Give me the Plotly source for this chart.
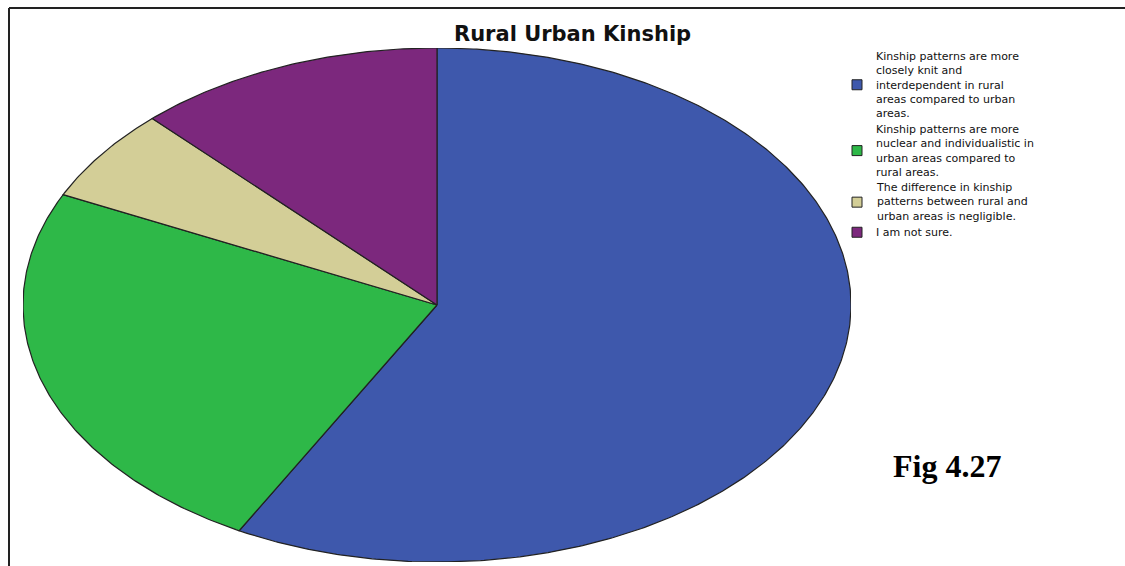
import numpy as np
import plotly.graph_objects as go

# ---- data -------------------------------------------------------------
TITLE = "Rural Urban Kinship"
CATEGORIES = [
    "Kinship patterns are more closely knit and interdependent in rural areas compared to urban areas.",
    "Kinship patterns are more nuclear and individualistic in urban areas compared to rural areas.",
    "The difference in kinship patterns between rural and urban areas is negligible.",
    "I am not sure.",
]
COUNTS = [168, 70, 17, 35]
LEGEND_LINES = [
    ["Kinship patterns are more", "closely knit and", "interdependent in rural",
     "areas compared to urban", "areas."],
    ["Kinship patterns are more", "nuclear and individualistic in",
     "urban areas compared to", "rural areas."],
    ["The difference in kinship", "patterns between rural and",
     "urban areas is negligible."],
    ["I am not sure."],
]
COLORS = ["#3E58AC", "#2EB848", "#D3CE97", "#7C287D"]
FIG_LABEL = "Fig 4.27"

W, H = 1125, 566


def px(x):
    return x / W


def py(y):
    return 1 - y / H


fig = go.Figure()

# ---- elliptical pie: wedges go clockwise from 12 o'clock ----------------
total = float(sum(COUNTS))
start = 0.0
for name, val, col in zip(CATEGORIES, COUNTS, COLORS):
    frac = val / total
    theta = np.linspace(start, start + frac, max(int(frac * 720), 8)) * 2 * np.pi
    xs = np.concatenate([[0.0], np.sin(theta), [0.0]])
    ys = np.concatenate([[0.0], np.cos(theta), [0.0]])
    fig.add_trace(go.Scatter(
        x=xs, y=ys, mode="lines", fill="toself", fillcolor=col,
        line=dict(color="#222222", width=1.2), name=name,
        hoverinfo="text", text=f"{name}<br>{val} ({frac:.1%})",
        showlegend=False,
    ))
    start += frac

fig.update_layout(
    width=W, height=H,
    margin=dict(l=0, r=0, t=0, b=0),
    paper_bgcolor="white", plot_bgcolor="white",
    xaxis=dict(domain=[px(23), px(851)], range=[-1, 1], visible=False, fixedrange=True),
    yaxis=dict(domain=[py(562), py(48)], range=[-1, 1], visible=False, fixedrange=True),
    showlegend=False,
)

# ---- title -------------------------------------------------------------
annotations = [dict(
    text=f"<b>{TITLE}</b>", x=px(572), y=py(34), xref="paper", yref="paper",
    xanchor="center", yanchor="middle", showarrow=False,
    font=dict(family="DejaVu Sans", size=21, color="#111111"),
)]

# ---- legend: swatch + wrapped text block per category -------------------
shapes = []
font_size = 11
line_h = font_size * 1.3
entry_gap = 1.5
y = 49.0
for lines, col in zip(LEGEND_LINES, COLORS):
    block_h = len(lines) * line_h
    yc = y + block_h / 2
    annotations.append(dict(
        text="<br>".join(lines), x=px(875), y=py(yc), xref="paper", yref="paper",
        xanchor="left", yanchor="middle", align="left", showarrow=False,
        borderpad=0,
        font=dict(family="DejaVu Sans", size=font_size, color="#111111"),
    ))
    shapes.append(dict(
        type="rect", xref="paper", yref="paper",
        x0=px(852), x1=px(862), y0=py(yc + 5), y1=py(yc - 5),
        fillcolor=col, line=dict(color="#222222", width=1),
    ))
    y += block_h + entry_gap

annotations.append(dict(
    text=f"<b>{FIG_LABEL}</b>", x=px(947), y=py(466), xref="paper", yref="paper",
    xanchor="center", yanchor="middle", showarrow=False,
    font=dict(family="Liberation Serif", size=32, color="black"),
))

# ---- frame lines (top and left) -------------------------------------------
shapes.append(dict(type="line", xref="paper", yref="paper",
                   x0=px(9), x1=1, y0=py(8), y1=py(8),
                   line=dict(color="#222222", width=2)))
shapes.append(dict(type="line", xref="paper", yref="paper",
                   x0=px(9), x1=px(9), y0=py(8), y1=0,
                   line=dict(color="#222222", width=2)))

fig.update_layout(annotations=annotations, shapes=shapes)

fig.write_html("out.html")
